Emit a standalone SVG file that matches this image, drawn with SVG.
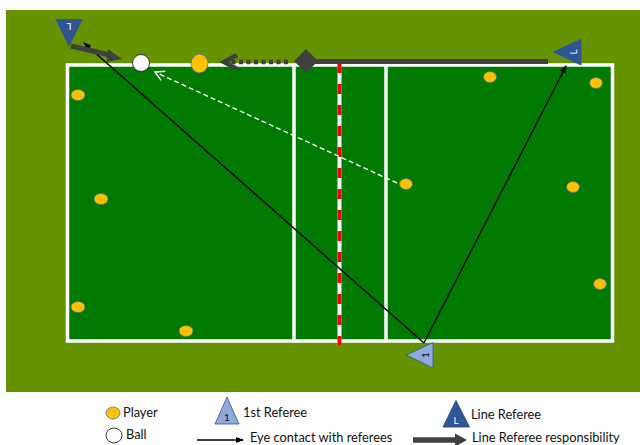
<svg xmlns="http://www.w3.org/2000/svg" width="640" height="445" viewBox="0 0 640 445">
<style>
.court{fill:none;stroke:#fff;stroke-width:3.5}
.player{fill:#ffc000;stroke:#4f6f8f;stroke-width:.8}
.ball{fill:#fff;stroke:#333;stroke-width:1}
.t{font-family:Lato,"Liberation Sans",Arial,sans-serif;font-size:12.8px;fill:#111}
.c{font-family:Lato,"Liberation Sans",Arial,sans-serif;font-size:10px;text-anchor:middle}
.lr{fill:#2f5597;stroke:#2f5597}
.fr{fill:#8eaadb;stroke:#2f5597;stroke-width:.8}
.eye{stroke:#000;stroke-width:1.4;fill:none}
.resp{stroke:#404040;fill:none}
</style>
<defs>
<marker id="a" markerUnits="userSpaceOnUse" markerWidth="8" markerHeight="6" refX="7" refY="3" orient="auto-start-reverse"><path d="M0 0L8 3L0 6z" fill="#000"/></marker>
<marker id="w" markerUnits="userSpaceOnUse" markerWidth="12" markerHeight="12" refX="10" refY="6" orient="auto"><path d="M1 1L10 6L1 11" fill="none" stroke="#fff" stroke-width="1.4"/></marker>
</defs>
<rect id="field" x="6" y="10" width="634" height="382" fill="#669400"/>
<rect id="court-fill" x="67.500" y="65" width="545" height="276" fill="#007a00"/>
<g id="court">
<rect class="court" x="67.500" y="65" width="545" height="276"/>
<path class="court" d="M294 65V341M386 65V341"/>
<path d="M339.500 63V345" stroke="#fff" stroke-width="4"/>
<path d="M339.500 63V345" stroke="#f00000" stroke-width="4" stroke-dasharray="10 11"/>
</g>
<g id="connectors">
<path class="eye" d="M424 343L84 43" marker-end="url(#a)"/>
<path class="eye" d="M424 343L566 66" marker-end="url(#a)"/>
<path d="M397 183L155 72" fill="none" stroke="#fff" stroke-width="1.400" stroke-dasharray="5 3" marker-end="url(#w)"/>
<path class="resp" d="M548 61.500H305" stroke-width="5"/>
<path class="resp" d="M288 62H230" stroke-width="4.500" stroke-dasharray="4 3.500"/>
<path class="resp" d="M237 55L224 62L237 69" stroke-width="4.500"/>
<path class="resp" d="M71 46L110 55" stroke-width="5"/>
<path d="M108 49L122 59L107 62z" fill="#404040"/>
<path d="M306 49L318 61L306 73L294 61z" fill="#404040"/>
</g>
<g id="ball"><circle class="ball" cx="141" cy="63" r="8.500"/></g>
<g id="player-top"><ellipse class="player" cx="199.500" cy="63.500" rx="8.500" ry="9.500"/></g>
<g id="players">
<ellipse class="player" cx="78" cy="95" rx="7" ry="5.500"/>
<ellipse class="player" cx="101" cy="199" rx="7" ry="5.500"/>
<ellipse class="player" cx="78" cy="307" rx="7" ry="5.500"/>
<ellipse class="player" cx="186" cy="331" rx="7" ry="5.500"/>
<ellipse class="player" cx="406" cy="184" rx="6.500" ry="5.500"/>
<ellipse class="player" cx="490" cy="77" rx="6.500" ry="5.500"/>
<ellipse class="player" cx="596" cy="83" rx="6.500" ry="5.500"/>
<ellipse class="player" cx="573" cy="187" rx="6.500" ry="5.500"/>
<ellipse class="player" cx="600" cy="284" rx="6.500" ry="5.500"/>
</g>
<g id="line-referee-1"><path class="lr" d="M56 19.500H82L69 46z"/><text class="c" fill="#fff" transform="translate(69 23) rotate(180)">L</text></g>
<g id="line-referee-2"><path class="lr" d="M553.500 52L581 39.500V65z"/><text class="c" fill="#fff" transform="translate(577 52) rotate(-90)">L</text></g>
<g id="first-referee"><path class="fr" d="M406.500 355L433 342.500V368z"/><text class="c" fill="#111" transform="translate(429 355) rotate(-90)">1</text></g>
<g id="legend">
<ellipse class="player" cx="113" cy="413" rx="7" ry="6"/><text class="t" x="123" y="417">Player</text>
<ellipse class="ball" cx="114" cy="435.500" rx="8" ry="7.500"/><text class="t" x="126" y="439">Ball</text>
<path class="fr" d="M227 397L239 424H215z"/><text class="c" fill="#111" x="227" y="421">1</text><text class="t" x="243" y="417">1st Referee</text>
<path class="lr" d="M456 400.500L469.500 427H443z"/><text class="c" fill="#fff" x="456" y="424">L</text><text class="t" x="471" y="419">Line Referee</text>
<path class="eye" d="M197 440H243" marker-end="url(#a)"/><text class="t" x="250" y="441.500">Eye contact with referees</text>
<path class="resp" d="M413 440H456" stroke-width="5.500"/><path d="M455 433.500L467 440L455 446.500z" fill="#404040"/><text class="t" x="472" y="441.500">Line Referee responsibility</text>
</g>
</svg>
